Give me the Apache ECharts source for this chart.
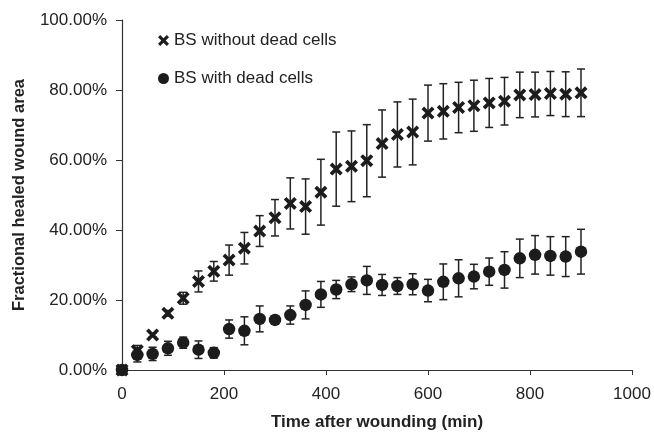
<!DOCTYPE html>
<html lang="en">
<head>
    <meta charset="UTF-8">
    <title>Healed wound area</title>
    <style>
        body { margin: 0; background: #fff; }
    </style>
</head>
<body>
    <div id="chart" style="width: 654px;height: 433px"></div>

    <script src="https://cdn.jsdelivr.net/npm/echarts@6/dist/echarts.min.js"></script>
    <script>
        // time points (min)
        var times = [0, 30, 60, 90, 120, 150, 180, 210, 240, 270, 300, 330, 360, 390, 420, 450,
            480, 510, 540, 570, 600, 630, 660, 690, 720, 750, 780, 810, 840, 870, 900];

        // BS without dead cells (%)
        var noDead = [0, 5.5, 10, 16.2, 20.5, 25.3, 28.2, 31.4, 34.8, 39.7, 43.5, 47.6, 46.7, 50.8, 57.4, 58.2,
            59.8, 64.7, 67.3, 68, 73.4, 73.9, 75, 75.5, 76.3, 76.8, 78.6, 78.7, 79, 78.8, 79.2];
        var noDeadErr = [0, 1.5, 0.5, 0.8, 1.7, 3, 2.8, 4.3, 4.5, 4.4, 5.2, 7.3, 7.9, 9.4, 10.6, 10.1,
            10.3, 9.6, 9.3, 9.4, 8, 7.9, 7.2, 7.3, 7, 6.8, 6.5, 6.4, 6.3, 6.4, 6.8];

        // BS with dead cells (%)
        var withDead = [0, 4.3, 4.6, 6.2, 7.8, 5.8, 4.9, 11.7, 11.2, 14.6, 14.3, 15.7, 18.6, 21.6, 23, 24.5,
            25.6, 24.3, 24, 24.5, 22.7, 25.2, 26.2, 26.7, 28.1, 28.6, 31.9, 32.9, 32.6, 32.4, 33.8];
        var withDeadErr = [0, 2, 1.9, 2, 1.6, 2.5, 1.5, 2.6, 4, 3.7, 1.2, 2.6, 4, 3.7, 2.6, 2.1,
            4, 3, 2.4, 3, 3.2, 5.1, 5.3, 3.5, 3.9, 5.2, 5.5, 5.5, 5.5, 5.7, 6.4];

        var crossPath = 'path://M0,2 L2,0 L5,3 L8,0 L10,2 L7,5 L10,8 L8,10 L5,7 L2,10 L0,8 L3,5 Z';
        var ink = '#1c1c1c';

        function points(vals) {
            return times.map(function (t, i) { return [t, vals[i] / 100]; });
        }
        function errs(vals, e) {
            return times.map(function (t, i) { return [t, (vals[i] - e[i]) / 100, (vals[i] + e[i]) / 100]; });
        }

        function renderErr(params, api) {
            var x = api.value(0);
            var lo = api.coord([x, api.value(1)]);
            var hi = api.coord([x, api.value(2)]);
            var w = 4;
            var style = { stroke: '#222', lineWidth: 1.5 };
            return {
                type: 'group',
                children: [
                    { type: 'line', shape: { x1: hi[0], y1: hi[1], x2: lo[0], y2: lo[1] }, style: style },
                    { type: 'line', shape: { x1: hi[0] - w, y1: hi[1], x2: hi[0] + w, y2: hi[1] }, style: style },
                    { type: 'line', shape: { x1: lo[0] - w, y1: lo[1], x2: lo[0] + w, y2: lo[1] }, style: style }
                ]
            };
        }

        var myChart = echarts.init(document.getElementById('chart'));
        var textFont = 'Liberation Sans, Arial, sans-serif';

        myChart.setOption({
            animation: false,
            textStyle: { fontFamily: textFont },
            grid: { left: 122, right: 22, top: 20, bottom: 63, containLabel: false, outerBoundsMode: 'none' },
            legend: {
                orient: 'vertical',
                left: 153,
                top: 27,
                itemGap: 21,
                itemWidth: 11,
                itemHeight: 11,
                textStyle: { fontSize: 17, color: '#222', fontFamily: textFont },
                data: [
                    { name: 'BS without dead cells', icon: crossPath, itemStyle: { color: ink, opacity: 1 } },
                    { name: 'BS with dead cells', icon: 'circle', itemStyle: { color: ink, opacity: 1 } }
                ]
            },
            xAxis: {
                type: 'value',
                min: 0,
                max: 1000,
                interval: 200,
                name: 'Time after wounding (min)',
                nameLocation: 'middle',
                nameGap: 44,
                nameTextStyle: { fontSize: 17, fontWeight: 'bold', color: '#222' },
                axisLine: { lineStyle: { color: '#333', width: 1.2 } },
                axisTick: { lineStyle: { color: '#333' }, length: 5 },
                axisLabel: {
                    fontSize: 17, color: '#222', margin: 16,
                    formatter: function (v) { return String(v); }
                },
                splitLine: { show: false }
            },
            yAxis: {
                type: 'value',
                min: 0,
                max: 1,
                interval: 0.2,
                name: 'Fractional healed wound area',
                nameLocation: 'middle',
                nameGap: 94,
                nameTextStyle: { fontSize: 16.5, fontWeight: 'bold', color: '#222' },
                axisLine: { show: true, lineStyle: { color: '#333', width: 1.2 } },
                axisTick: { show: true, lineStyle: { color: '#333' }, length: 6 },
                axisLabel: {
                    fontSize: 17, color: '#222', margin: 15,
                    formatter: function (v) { return (v * 100).toFixed(2) + '%'; }
                },
                splitLine: { show: false }
            },
            series: [
                {
                    name: 'BS without dead cells',
                    type: 'scatter',
                    symbol: crossPath,
                    symbolSize: 13,
                    itemStyle: { color: ink, opacity: 1 },
                    data: points(noDead),
                    z: 3
                },
                {
                    name: 'BS with dead cells',
                    type: 'scatter',
                    symbol: 'circle',
                    symbolSize: 12.5,
                    itemStyle: { color: ink, opacity: 1 },
                    data: points(withDead),
                    z: 3
                },
                {
                    name: 'err1',
                    type: 'custom',
                    renderItem: renderErr,
                    data: errs(noDead, noDeadErr),
                    encode: { x: 0, y: [1, 2] },
                    z: 2
                },
                {
                    name: 'err2',
                    type: 'custom',
                    renderItem: renderErr,
                    data: errs(withDead, withDeadErr),
                    encode: { x: 0, y: [1, 2] },
                    z: 2
                }
            ]
        });
    </script>
</body>
</html>
